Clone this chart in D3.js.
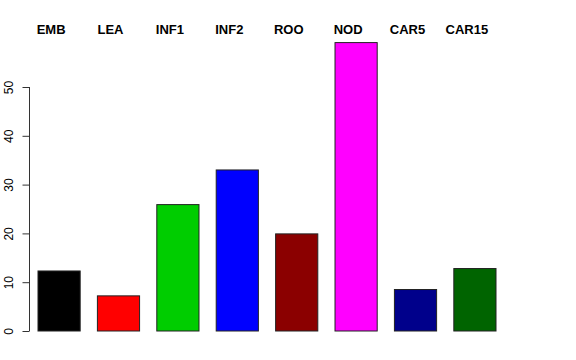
<!DOCTYPE html>
<html>
<head>
<meta charset="utf-8">
<script src="https://cdn.jsdelivr.net/npm/d3@7"></script>
<style>
body { margin: 0; background: #fff; }
svg { display: block; font-family: "Liberation Sans", Arial, sans-serif; }
</style>
</head>
<body>
<svg id="chart" width="576" height="360"></svg>
<script>
// data
const groups = ["EMB", "LEA", "INF1", "INF2", "ROO", "NOD", "CAR5", "CAR15"];
const values = [12.3, 7.2, 25.9, 33.0, 19.9, 59.1, 8.5, 12.8];
const colors = ["#000000", "#ff0000", "#00cd00", "#0000ff", "#8b0000", "#ff00ff", "#00008b", "#006400"];
const yTicks = [0, 10, 20, 30, 40, 50];

const svg = d3.select("#chart");

// x: bars ~42px wide, ~59.4px pitch, first starts at 38
const x = d3.scaleBand()
  .domain(groups)
  .range([29.5, 504.5])
  .paddingInner(0.29)
  .paddingOuter(0.143);

const y = d3.scaleLinear()
  .domain([0, 50])
  .range([331, 87]);

// bars
svg.append("g")
  .selectAll("rect")
  .data(groups)
  .join("rect")
  .attr("x", d => x(d))
  .attr("y", (d, i) => y(values[i]))
  .attr("width", x.bandwidth())
  .attr("height", (d, i) => y(0) - y(values[i]))
  .attr("fill", (d, i) => colors[i])
  .attr("stroke", "#222")
  .attr("stroke-width", 1);

// y axis, R style
const yAxis = svg.append("g")
  .attr("transform", "translate(29.5,0)")
  .call(d3.axisLeft(y).tickValues(yTicks).tickSize(7).tickPadding(0).tickFormat(d3.format("d")));
yAxis.select(".domain").attr("stroke", "#333").attr("d", `M0,${y(0)}V${y(50)}`);
yAxis.selectAll(".tick line").attr("stroke", "#333");
yAxis.selectAll(".tick text")
  .attr("font-size", 12)
  .attr("font-family", "Liberation Sans, Arial, sans-serif")
  .attr("fill", "#000")
  .attr("text-anchor", "middle")
  .attr("transform", "translate(-16.5,0) rotate(-90)")
  .attr("x", 0)
  .attr("dy", 0);

// group labels on top
svg.append("g")
  .selectAll("text")
  .data(groups)
  .join("text")
  .attr("x", d => x(d) + x.bandwidth() / 2 - 8)
  .attr("y", 34)
  .attr("text-anchor", "middle")
  .attr("font-size", 13)
  .attr("font-weight", "bold")
  .text(d => d);
</script>
</body>
</html>
